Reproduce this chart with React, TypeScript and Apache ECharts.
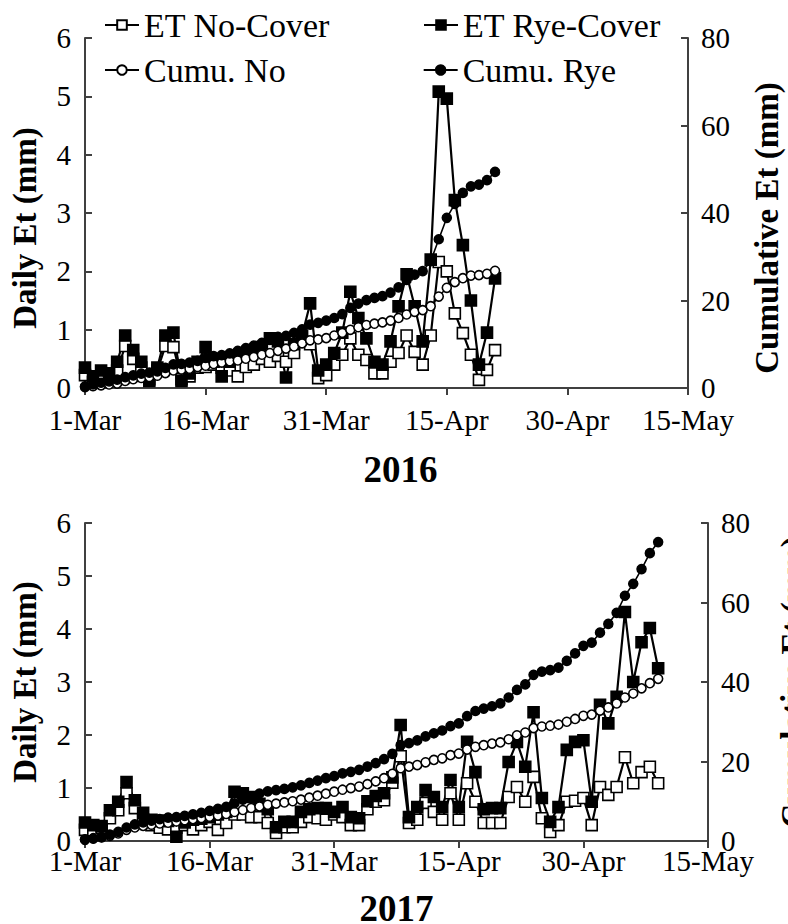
import React, { useEffect, useRef } from "react";
import * as echarts from "echarts";

// Tick labels of the date axis (day 0 = 1-Mar, one tick every 15 days)
const xTickLabels = ["1-Mar", "16-Mar", "31-Mar", "15-Apr", "30-Apr", "15-May"];
const seriesNames = ["ET No-Cover", "ET Rye-Cover", "Cumu. No", "Cumu. Rye"];

// 2016: daily values from 1-Mar (day 0) to 21-Apr (day 51)
const etNo2016 = [0.22, 0.1, 0.2, 0.15, 0.3, 0.72, 0.5, 0.35, 0.15, 0.3, 0.72, 0.7, 0.15, 0.2, 0.35, 0.36, 0.4, 0.35, 0.3, 0.2, 0.36, 0.4, 0.5, 0.45, 0.55, 0.45, 0.6, 0.8, 0.75, 0.17, 0.22, 0.4, 0.57, 0.85, 0.57, 0.48, 0.25, 0.25, 0.45, 0.6, 0.9, 0.62, 0.4, 0.9, 2.16, 2.0, 1.28, 0.94, 0.57, 0.14, 0.31, 0.65];
const etRye2016 = [0.35, 0.2, 0.3, 0.25, 0.45, 0.9, 0.65, 0.45, 0.12, 0.35, 0.9, 0.95, 0.12, 0.25, 0.45, 0.7, 0.45, 0.2, 0.45, 0.55, 0.6, 0.65, 0.7, 0.85, 0.8, 0.18, 0.75, 0.9, 1.45, 0.3, 0.4, 0.6, 0.95, 1.65, 1.2, 0.85, 0.45, 0.4, 0.8, 1.4, 1.95, 1.4, 0.8, 2.2, 5.08, 4.96, 3.22, 2.45, 1.5, 0.4, 0.95, 1.88];
const cumNo2016 = [0.2, 0.4, 0.6, 0.8, 1.0, 1.6, 2.0, 2.3, 2.5, 2.8, 3.4, 4.0, 4.2, 4.4, 4.8, 5.1, 5.5, 5.8, 6.1, 6.3, 6.7, 7.1, 7.6, 8.0, 8.5, 9.0, 9.5, 10.2, 10.9, 11.1, 11.4, 12.0, 12.6, 13.3, 13.9, 14.4, 14.7, 15.0, 15.4, 16.0, 16.8, 17.4, 17.8, 18.7, 20.9, 22.9, 24.2, 25.1, 25.7, 25.8, 26.1, 26.8];
const cumRye2016 = [0.4, 0.8, 1.2, 1.5, 1.9, 2.5, 2.9, 3.3, 3.5, 3.8, 4.6, 5.4, 5.5, 5.8, 6.2, 6.9, 7.3, 7.5, 7.9, 8.5, 9.1, 9.7, 10.3, 11.0, 11.7, 11.9, 12.6, 13.4, 14.5, 14.9, 15.4, 16.0, 16.9, 18.3, 19.3, 20.1, 20.6, 21.0, 21.8, 23.0, 24.7, 25.9, 26.7, 29.0, 34.0, 38.9, 42.1, 44.6, 46.1, 46.5, 47.5, 49.4];

// 2017: daily values from 1-Mar (day 0) to 9-May (day 69)
const etNo2017 = [0.21, 0.2, 0.25, 0.43, 0.58, 0.9, 0.62, 0.4, 0.3, 0.25, 0.22, 0.25, 0.3, 0.22, 0.3, 0.36, 0.21, 0.34, 0.5, 0.5, 0.45, 0.45, 0.34, 0.15, 0.26, 0.26, 0.36, 0.45, 0.43, 0.4, 0.5, 0.45, 0.3, 0.3, 0.6, 0.74, 0.77, 1.1, 1.6, 0.34, 0.4, 0.72, 0.55, 0.4, 0.9, 0.4, 1.09, 0.74, 0.34, 0.34, 0.34, 0.83, 1.02, 0.74, 1.21, 0.43, 0.17, 0.3, 0.74, 0.76, 0.81, 0.3, 1.02, 0.87, 1.02, 1.58, 1.09, 1.3, 1.4, 1.09];
const etRye2017 = [0.35, 0.3, 0.28, 0.58, 0.74, 1.11, 0.77, 0.53, 0.4, 0.38, 0.38, 0.08, 0.35, 0.4, 0.42, 0.45, 0.5, 0.55, 0.93, 0.9, 0.83, 0.7, 0.6, 0.26, 0.36, 0.36, 0.55, 0.6, 0.62, 0.62, 0.55, 0.64, 0.45, 0.43, 0.75, 0.85, 0.9, 1.2, 2.19, 0.45, 0.64, 0.96, 0.83, 0.64, 1.15, 0.64, 1.87, 1.3, 0.6, 0.62, 0.62, 1.49, 1.87, 1.4, 2.43, 0.81, 0.36, 0.64, 1.72, 1.87, 1.9, 0.74, 2.57, 2.22, 2.72, 4.32, 3.0, 3.75, 4.02, 3.26];
const cumNo2017 = [0.3, 0.6, 0.9, 1.3, 1.9, 2.8, 3.4, 3.8, 4.1, 4.4, 4.6, 4.9, 5.2, 5.5, 5.8, 6.1, 6.4, 6.8, 7.3, 7.8, 8.3, 8.7, 9.1, 9.4, 9.7, 10.0, 10.4, 10.9, 11.4, 11.9, 12.4, 12.9, 13.3, 13.7, 14.3, 15.0, 15.8, 16.9, 18.3, 18.7, 19.1, 19.8, 20.4, 20.8, 21.6, 22.0, 23.0, 23.7, 24.1, 24.5, 24.8, 25.6, 26.6, 27.3, 28.4, 28.8, 29.0, 29.3, 30.0, 30.7, 31.5, 31.8, 32.8, 33.6, 34.6, 36.1, 37.1, 38.4, 39.7, 40.8];
const cumRye2017 = [0.4, 0.7, 1.0, 1.6, 2.3, 3.4, 4.2, 4.7, 5.1, 5.5, 5.9, 6.0, 6.3, 6.7, 7.1, 7.6, 8.1, 8.6, 9.5, 10.4, 11.2, 11.9, 12.5, 12.8, 13.1, 13.5, 14.0, 14.6, 15.2, 15.8, 16.3, 17.0, 17.4, 17.9, 18.7, 19.6, 20.6, 21.9, 24.1, 24.6, 25.3, 26.3, 27.1, 27.8, 28.9, 29.6, 31.4, 32.7, 33.3, 33.9, 34.6, 36.1, 38.0, 39.4, 41.8, 42.6, 43.0, 43.6, 45.3, 47.2, 49.1, 49.9, 52.4, 54.6, 57.4, 61.7, 64.7, 68.4, 72.4, 75.2];

const FONT = "Liberation Serif";
const AXIS_COLOR = "#404040";

const toPairs = (arr: number[]) => arr.map((v, i) => [i, v]);

export default function App() {
  const ref = useRef<HTMLDivElement>(null);
  useEffect(() => {
    if (!ref.current) return;
    const chart = echarts.init(ref.current, undefined, { renderer: "svg" });

    const axisLine = { show: true, lineStyle: { color: AXIS_COLOR, width: 2 } };
    const tickLabel = { fontFamily: FONT, fontSize: 29, color: "#000" };

    const xAxis = (gridIndex: number, title: string, gap: number, margin: number, shift: number) => ({
      type: "value",
      gridIndex,
      min: 0,
      max: 75,
      interval: 15,
      axisLine: { ...axisLine, onZero: false },
      axisTick: { show: true, inside: false, length: 7, lineStyle: { color: AXIS_COLOR, width: 2 } },
      axisLabel: {
        ...tickLabel,
        margin,
        formatter: (v: number) => xTickLabels[Math.round(v / 15)] ?? "",
      },
      splitLine: { show: false },
      name: title,
      nameLocation: "middle",
      nameGap: gap,
      nameTextStyle: {
        fontFamily: FONT,
        fontSize: 37,
        fontWeight: "bold",
        color: "#000",
        padding: [0, 0, 0, shift],
      },
    });

    const yLeft = (gridIndex: number, down: number) => ({
      type: "value",
      gridIndex,
      position: "left",
      min: 0,
      max: 6,
      interval: 1,
      axisLine,
      axisTick: { show: true, inside: true, length: 7, lineStyle: { color: AXIS_COLOR, width: 2 } },
      axisLabel: { ...tickLabel, margin: 14 },
      splitLine: { show: false },
      name: "Daily Et (mm)",
      nameLocation: "middle",
      nameRotate: 90,
      nameGap: 44,
      nameTextStyle: {
        fontFamily: FONT,
        fontSize: 33,
        fontWeight: "bold",
        color: "#000",
        padding: [0, down, 0, 0],
      },
    });

    const yRight = (gridIndex: number, gap: number, down: number) => ({
      type: "value",
      gridIndex,
      position: "right",
      min: 0,
      max: 80,
      interval: 20,
      axisLine,
      axisTick: { show: true, inside: true, length: 7, lineStyle: { color: AXIS_COLOR, width: 2 } },
      axisLabel: { ...tickLabel, margin: 13 },
      splitLine: { show: false },
      name: "Cumulative Et (mm)",
      nameLocation: "middle",
      nameRotate: 90,
      nameGap: gap,
      nameTextStyle: {
        fontFamily: FONT,
        fontSize: 33,
        fontWeight: "bold",
        color: "#000",
        padding: [0, down, 0, 0],
      },
    });

    const mk = (name: string, data: number[], xi: number, yi: number) => {
      const isEt = name.startsWith("ET");
      const open = name === "ET No-Cover" || name === "Cumu. No";
      return {
        name,
        type: "line",
        xAxisIndex: xi,
        yAxisIndex: yi,
        data: toPairs(data),
        symbol: isEt ? "rect" : "circle",
        symbolSize: isEt ? 11 : 9,
        showAllSymbol: true,
        lineStyle: { color: "#000", width: isEt ? 2.2 : 1.6 },
        itemStyle: { color: open ? "#fff" : "#000", borderColor: "#000", borderWidth: 1.6 },
        emphasis: { disabled: true },
        z: isEt ? 2 : 3,
      };
    };

    const legendText = { fontFamily: FONT, fontSize: 34, color: "#000" };

    chart.setOption({
      animation: false,
      backgroundColor: "#fff",
      legend: [
        {
          data: [seriesNames[0], seriesNames[1]],
          left: 104,
          top: 8,
          padding: 0,
          itemWidth: 34,
          itemHeight: 12,
          itemGap: 93,
          textStyle: legendText,
          selectedMode: false,
        },
        {
          data: [seriesNames[2], seriesNames[3]],
          left: 104,
          top: 53,
          padding: 0,
          itemWidth: 34,
          itemHeight: 12,
          itemGap: 137,
          textStyle: legendText,
          selectedMode: false,
        },
      ],
      grid: [
        { left: 85, right: 100, top: 38, bottom: 536, outerBoundsMode: "none" },
        { left: 85, right: 80, top: 523, bottom: 83, outerBoundsMode: "none" },
      ],
      xAxis: [xAxis(0, "2016", 63, 17, 28), xAxis(1, "2017", 49, 5, 0)],
      yAxis: [yLeft(0, 30), yRight(0, 62, 30), yLeft(1, 0), yRight(1, 68, 0)],
      series: [
        mk(seriesNames[0], etNo2016, 0, 0),
        mk(seriesNames[1], etRye2016, 0, 0),
        mk(seriesNames[2], cumNo2016, 0, 1),
        mk(seriesNames[3], cumRye2016, 0, 1),
        mk(seriesNames[0], etNo2017, 1, 2),
        mk(seriesNames[1], etRye2017, 1, 2),
        mk(seriesNames[2], cumNo2017, 1, 3),
        mk(seriesNames[3], cumRye2017, 1, 3),
      ],
    });
    return () => chart.dispose();
  }, []);
  return <div ref={ref} style={{ width: 788, height: 924, position: "absolute", left: 0, top: 0 }} />;
}
